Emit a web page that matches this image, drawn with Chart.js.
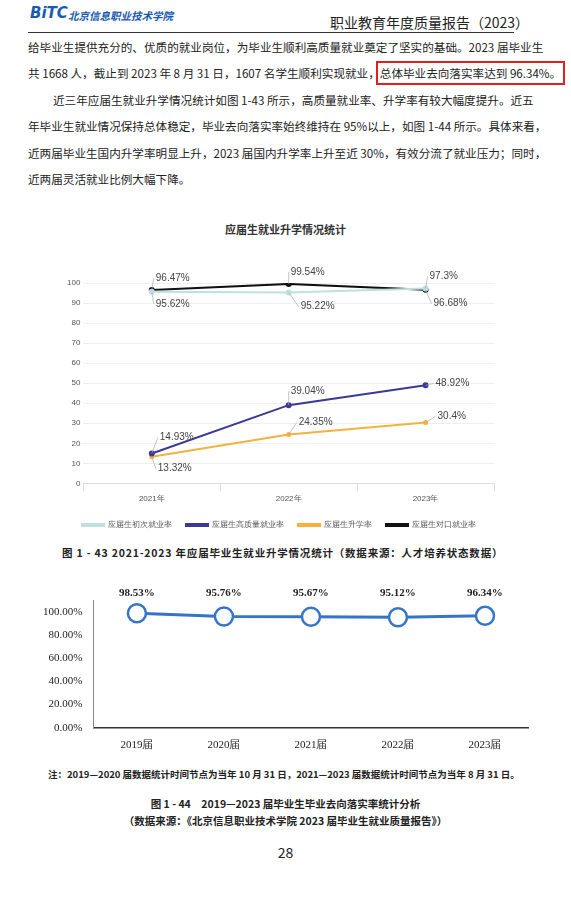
<!DOCTYPE html>
<html><head><meta charset="utf-8">
<script src="https://cdn.jsdelivr.net/npm/chart.js@4"></script>
<style>
body{margin:0;width:571px;height:900px;background:#fff;position:relative;font-family:"Noto Sans CJK SC",sans-serif;color:#222;overflow:hidden}
.a{position:absolute;white-space:nowrap}
p.t{position:absolute;left:28px;width:486px;margin:0;font-size:11.6px;white-space:nowrap;text-align:justify;text-align-last:justify}
</style></head><body>
<div class="a" style="left:30px;top:4px;font:bold italic 15px 'DejaVu Sans';color:#1a5bb0">BiTC</div>
<div class="a" style="left:68px;top:8px;font-size:10.5px;color:#1a5bb0;font-weight:bold;font-style:italic">北京信息职业技术学院</div>
<div class="a" style="left:330px;top:12px;font-size:14px">职业教育年度质量报告（2023）</div>
<div class="a" style="left:28px;top:32px;width:486px;border-top:1px solid #333"></div>
<p class="t" style="top:39px">给毕业生提供充分的、优质的就业岗位，为毕业生顺利高质量就业奠定了坚实的基础。2023 届毕业生</p>
<p class="t" style="top:65px;width:auto;text-align-last:auto">共 1668 人，截止到 2023 年 8 月 31 日，1607 名学生顺利实现就业，<span style="outline:2px solid #e02020;outline-offset:2px">总体毕业去向落实率达到 96.34%。</span></p>
<p class="t" style="top:92px;left:53px;width:461px">近三年应届生就业升学情况统计如图 1-43 所示，高质量就业率、升学率有较大幅度提升。近五</p>
<p class="t" style="top:118px">年毕业生就业情况保持总体稳定，毕业去向落实率始终维持在 95%以上，如图 1-44 所示。具体来看，</p>
<p class="t" style="top:145px">近两届毕业生国内升学率明显上升，2023 届国内升学率上升至近 30%，有效分流了就业压力；同时，</p>
<p class="t" style="top:171px;width:auto;text-align-last:auto">近两届灵活就业比例大幅下降。</p>
<div class="a" style="left:0;width:571px;text-align:center;top:221px;font:bold 11px 'Noto Sans CJK SC';color:#333">应届生就业升学情况统计</div>
<div class="a" style="left:64px;top:267px;width:440px;height:272px"><canvas id="c1"></canvas></div>
<div class="a" style="left:62px;top:545px;font-size:10.5px;font-weight:bold;letter-spacing:0.8px">图 1 - 43 2021-2023 年应届毕业生就业升学情况统计（数据来源：人才培养状态数据）</div>
<div class="a" style="left:40px;top:582px;width:500px;height:173px"><canvas id="c2"></canvas></div>
<div class="a" style="left:48px;top:767px;font-size:9.5px;font-weight:bold">注：2019—2020 届数据统计时间节点为当年 10 月 31 日，2021—2023 届数据统计时间节点为当年 8 月 31 日。</div>
<div class="a" style="left:0;width:571px;text-align:center;top:796px;font-size:10.5px;font-weight:bold">图 1 - 44　2019—2023 届毕业生毕业去向落实率统计分析</div>
<div class="a" style="left:0;width:571px;text-align:center;top:813px;font-size:10.5px;font-weight:bold">（数据来源：《北京信息职业技术学院 2023 届毕业生就业质量报告》）</div>
<div class="a" style="left:0;width:571px;text-align:center;top:842px;font-size:14px">28</div>
<script>
const years1=['2021年','2022年','2023年'];
const firstRate=[95.62,95.22,97.3];
const highQuality=[14.93,39.04,48.92];
const furtherStudy=[13.32,24.35,30.4];
const matchRate=[96.47,99.54,96.68];
const years2=['2019届','2020届','2021届','2022届','2023届'];
const placeRate=[98.53,95.76,95.67,95.12,96.34];

const lab1={id:'lab1',afterDatasetsDraw(c){const x=c.ctx;x.save();x.font='10px "Liberation Sans",Arial';x.fillStyle='#444';x.strokeStyle='#aaa';x.lineWidth=0.7;
 const off={0:[[2,12],[10,14],[2,-12]],1:[[6,-16],[0,-14],[8,-2]],2:[[4,12],[8,-12],[10,-6]],3:[[2,-12],[0,-12],[6,14]]};
 c.data.datasets.forEach((d,i)=>{c.getDatasetMeta(i).data.forEach((p,j)=>{const o=off[i][j];const tx=p.x+o[0],ty=p.y+o[1];x.beginPath();x.moveTo(p.x,p.y);x.lineTo(tx,ty);x.stroke();x.textBaseline='middle';x.fillText(d.data[j]+'%',tx+2,ty);});});x.restore();}};
new Chart(document.getElementById('c1'),{type:'line',data:{labels:years1,datasets:[
 {label:'应届生初次就业率',data:firstRate,borderColor:'#bfe0e0',backgroundColor:'#bfe0e0',borderWidth:2,pointRadius:2},
 {label:'应届生高质量就业率',data:highQuality,borderColor:'#3a3a96',backgroundColor:'#3a3a96',borderWidth:2,pointRadius:2},
 {label:'应届生升学率',data:furtherStudy,borderColor:'#f5b140',backgroundColor:'#f5b140',borderWidth:2,pointRadius:1.5},
 {label:'应届生对口就业率',data:matchRate,borderColor:'#111',backgroundColor:'#111',borderWidth:2,pointRadius:2}]},
 options:{responsive:true,maintainAspectRatio:false,animation:false,layout:{padding:{right:10,top:16}},
 plugins:{legend:{position:'bottom',labels:{boxWidth:22,boxHeight:2,font:{size:8},color:'#555',padding:14}},tooltip:{enabled:false}},
 scales:{x:{offset:true,grid:{display:true,drawOnChartArea:false,offset:true,color:'#ddd'},ticks:{font:{size:8},color:'#555'},border:{color:'#ddd'}},
 y:{min:0,max:100,ticks:{stepSize:10,font:{size:8},color:'#555'},grid:{color:'#eee',drawTicks:false},border:{display:false}}}},plugins:[lab1]});

const lab2={id:'lab2',afterDatasetsDraw(c){const x=c.ctx;x.save();x.font='bold 11px "Liberation Serif",serif';x.fillStyle='#222';x.textAlign='center';
 c.getDatasetMeta(0).data.forEach((p,j)=>{x.fillText(placeRate[j].toFixed(2)+'%',p.x,c.chartArea.top-4);});x.restore();}};
new Chart(document.getElementById('c2'),{type:'line',data:{labels:years2,datasets:[{data:placeRate,borderColor:'#3575c8',borderWidth:3,pointRadius:9,pointBorderWidth:2.5,pointBackgroundColor:'#fff',pointBorderColor:'#3575c8'}]},
 options:{responsive:true,maintainAspectRatio:false,animation:false,layout:{padding:{right:10,top:18}},plugins:{legend:{display:false},tooltip:{enabled:false}},
 scales:{x:{offset:true,grid:{display:false},ticks:{font:{size:11,family:'"Liberation Serif",serif'},color:'#222'},border:{color:'#333',width:1.5}},
 y:{min:0,max:110,afterBuildTicks(a){a.ticks=[0,20,40,60,80,100].map(v=>({value:v}));},ticks:{font:{size:11,family:'"Liberation Serif",serif'},color:'#222',callback:v=>v.toFixed(2)+'%'},grid:{display:false},border:{color:'#888'}}}},plugins:[lab2]});
</script></body></html>
